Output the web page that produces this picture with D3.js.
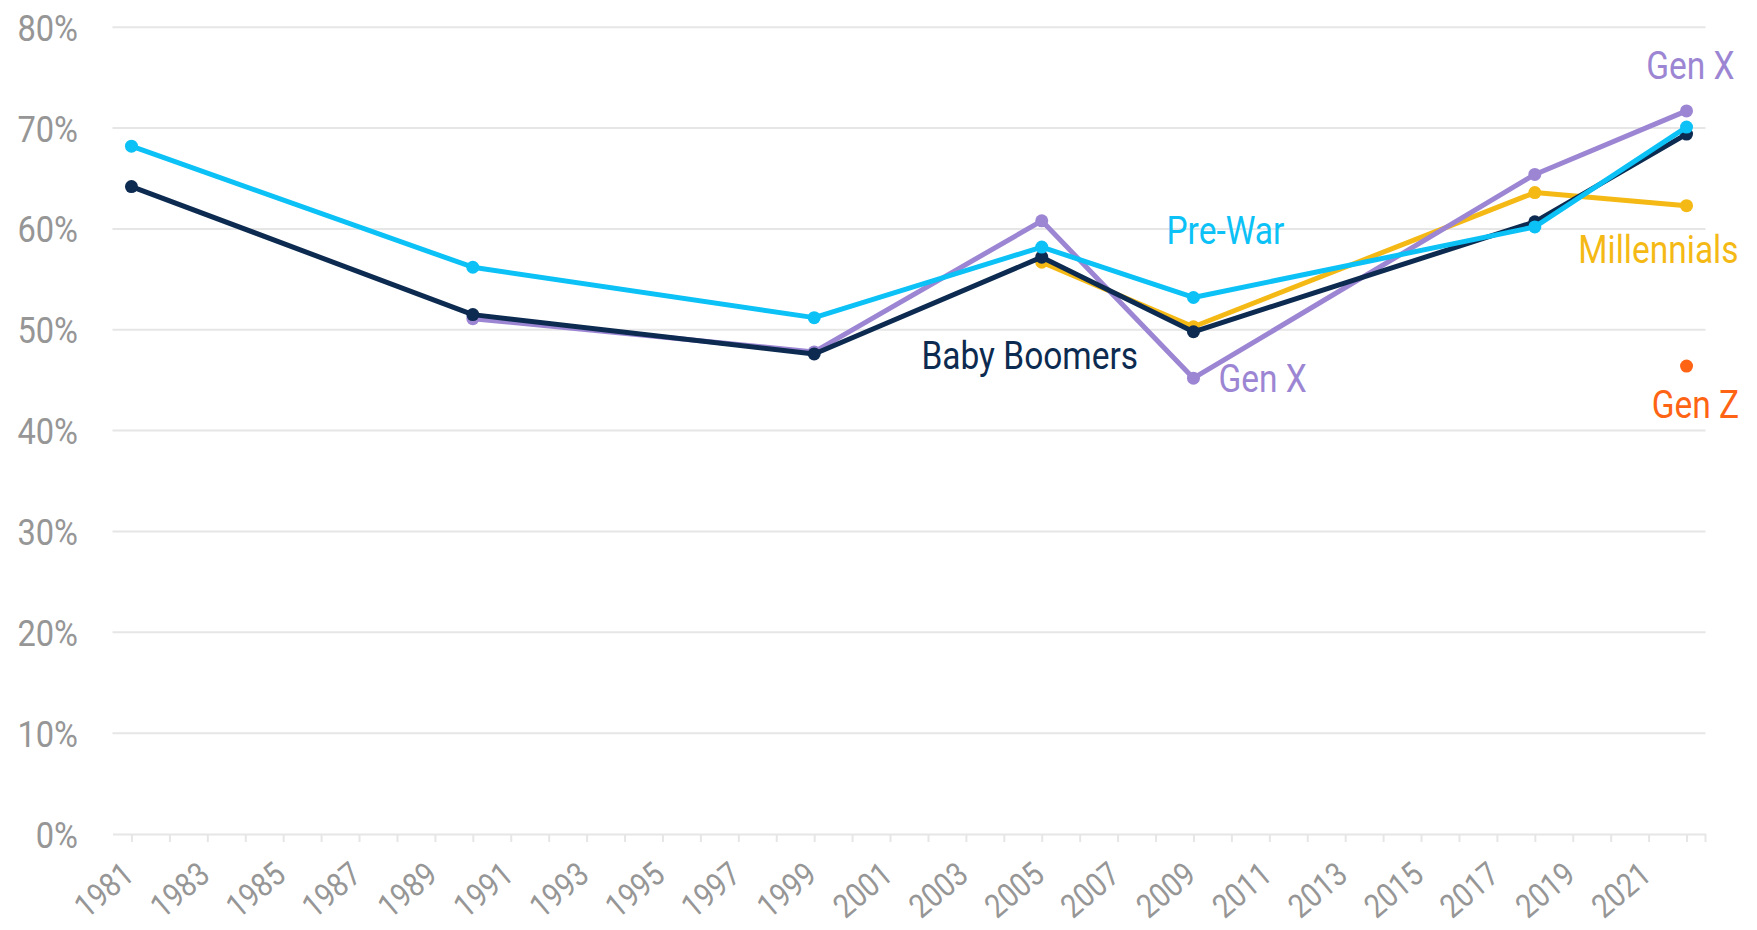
<!DOCTYPE html>
<html>
<head>
<meta charset="utf-8">
<script src="https://cdn.jsdelivr.net/npm/d3@7"></script>
<style>
  html, body { margin: 0; padding: 0; background: #ffffff; }
  svg { display: block; }
  text { font-family: Roboto, "Noto Sans", "Liberation Sans", sans-serif; }
</style>
</head>
<body>
<svg id="chart" width="1757" height="930"></svg>
<script>
// Survey waves (years) and the share for each generation, in percent
const waves       = [1981, 1990, 1999, 2005, 2009, 2018, 2022];
const preWar      = [68.2, 56.2, 51.2, 58.2, 53.2, 60.2, 70.1];
const babyBoomers = [64.2, 51.5, 47.6, 57.2, 49.8, 60.7, 69.4];
const genX        = [null, 51.1, 47.8, 60.8, 45.2, 65.4, 71.7];
const millennials = [null, null, null, 56.7, 50.3, 63.6, 62.3];
const genZ        = [null, null, null, null, null, null, 46.4];

// Axis ticks
const yTicks = [0, 10, 20, 30, 40, 50, 60, 70, 80];
const xTickYears = d3.range(1981, 2023);

// Series, listed bottom to top in drawing order
const series = [
  { name: "Millennials",  values: millennials, color: "#f5b915" },
  { name: "Gen X",        values: genX,        color: "#9c86d3" },
  { name: "Baby Boomers", values: babyBoomers, color: "#0d2b50" },
  { name: "Pre-War",      values: preWar,      color: "#0bc1f6" },
  { name: "Gen Z",        values: genZ,        color: "#ff6414" }
];

// Direct labels: which series/wave they sit next to, and their offset from that point
const annotations = [
  { series: "Gen X",        year: 2022, dx: 48,   dy: -31.5, anchor: "end" },
  { series: "Pre-War",      year: 2009, dx: -27,  dy: -53,   anchor: "start" },
  { series: "Millennials",  year: 2022, dx: 52,   dy: 57.4,  anchor: "end" },
  { series: "Baby Boomers", year: 2005, dx: -12,  dy: 112.3, anchor: "middle" },
  { series: "Gen X",        year: 2009, dx: 25,   dy: 14,    anchor: "start" },
  { series: "Gen Z",        year: 2022, dx: 52.6, dy: 51.6,  anchor: "end" }
];

const svg = d3.select("#chart");
const textSquash = 0.87;   // narrow the sans face horizontally
const gridColor = "#e6e6e6";
const labelGray = "#969696";

const x = d3.scaleLinear().domain([1980.5, 2022.5]).range([112.5, 1705.5]);
const y = d3.scaleLinear().domain([0, 80]).range([834, 27.2]);

// Horizontal gridlines
svg.append("g")
  .selectAll("line")
  .data(yTicks.filter(d => d > 0))
  .join("line")
  .attr("x1", x.range()[0]).attr("x2", x.range()[1])
  .attr("y1", d => y(d)).attr("y2", d => y(d))
  .attr("stroke", gridColor).attr("stroke-width", 2);

// Y tick labels
svg.append("g")
  .selectAll("text")
  .data(yTicks)
  .join("text")
  .attr("transform", d => `translate(78,${y(d)}) scale(${textSquash},1)`)
  .attr("text-anchor", "end")
  .attr("dy", "0.36em")
  .attr("fill", labelGray)
  .attr("font-size", 37.5)
  .text(d => d + "%");

// X axis: a tick every year, a label every other year
const xAxis = d3.axisBottom(x)
  .tickValues(xTickYears)
  .tickSize(8)
  .tickSizeOuter(0)
  .tickFormat(d => (d - 1981) % 2 === 0 ? String(d) : "");

const gx = svg.append("g")
  .attr("transform", `translate(0,${y(0)})`)
  .call(xAxis);

gx.select(".domain").attr("stroke", gridColor).attr("stroke-width", 2);
gx.selectAll(".tick line").attr("stroke", gridColor).attr("stroke-width", 2);
gx.selectAll(".tick text")
  .attr("fill", labelGray)
  .attr("font-size", 33)
  .attr("font-family", "Roboto, 'Noto Sans', sans-serif")
  .attr("text-anchor", "end")
  .attr("x", null).attr("y", null).attr("dy", null)
  .attr("transform", `translate(4,44) rotate(-40) scale(${textSquash},1)`);

// Closing tick at the right end of the axis
gx.append("line")
  .attr("x1", x.range()[1]).attr("x2", x.range()[1])
  .attr("y1", 0).attr("y2", 8)
  .attr("stroke", gridColor).attr("stroke-width", 2);

// Lines and markers
const line = d3.line()
  .defined(d => d.v != null)
  .x(d => x(d.year))
  .y(d => y(d.v));

const seriesPoints = s => waves.map((year, i) => ({ year, v: s.values[i] }));

const gSeries = svg.append("g")
  .selectAll("g")
  .data(series)
  .join("g");

gSeries.append("path")
  .attr("d", s => line(seriesPoints(s)))
  .attr("fill", "none")
  .attr("stroke", s => s.color)
  .attr("stroke-width", 5)
  .attr("stroke-linejoin", "round")
  .attr("stroke-linecap", "round");

gSeries.selectAll("circle")
  .data(s => seriesPoints(s).filter(d => d.v != null).map(d => ({ ...d, color: s.color })))
  .join("circle")
  .attr("cx", d => x(d.year))
  .attr("cy", d => y(d.v))
  .attr("r", 6.5)
  .attr("fill", d => d.color);

// Direct series labels
const byName = Object.fromEntries(series.map(s => [s.name, s]));
svg.append("g")
  .selectAll("text")
  .data(annotations)
  .join("text")
  .attr("transform", a => {
    const s = byName[a.series];
    const v = s.values[waves.indexOf(a.year)];
    return `translate(${x(a.year) + a.dx},${y(v) + a.dy}) scale(${textSquash},1)`;
  })
  .attr("text-anchor", a => a.anchor)
  .attr("fill", a => byName[a.series].color)
  .attr("font-size", 38.5)
  .text(a => a.series);
</script>
</body>
</html>
